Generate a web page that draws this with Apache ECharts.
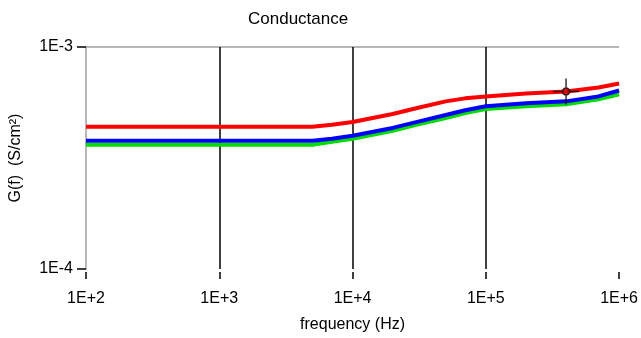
<!DOCTYPE html>
<html>
<head>
<meta charset="utf-8">
<script src="https://cdn.jsdelivr.net/npm/echarts@6/dist/echarts.min.js"></script>
<style>
  html, body { margin: 0; padding: 0; background: #fff; }
  #chart { width: 641px; height: 338px; }
</style>
</head>
<body>
<div id="chart"></div>
<script>
// frequency (Hz) and conductance values (S/cm2)
var freq  = [100, 1000, 5000, 7000, 10000, 20000, 30000, 50000, 70000, 100000, 200000, 400000, 700000, 1000000];
var red   = [4.37e-4, 4.37e-4, 4.37e-4, 4.46e-4, 4.59e-4, 4.99e-4, 5.30e-4, 5.69e-4, 5.87e-4, 5.99e-4, 6.18e-4, 6.31e-4, 6.57e-4, 6.85e-4];
var blue  = [3.78e-4, 3.78e-4, 3.78e-4, 3.86e-4, 3.98e-4, 4.32e-4, 4.59e-4, 4.94e-4, 5.19e-4, 5.41e-4, 5.58e-4, 5.69e-4, 5.99e-4, 6.37e-4];
var green = [3.63e-4, 3.63e-4, 3.63e-4, 3.74e-4, 3.86e-4, 4.19e-4, 4.46e-4, 4.79e-4, 5.04e-4, 5.25e-4, 5.41e-4, 5.52e-4, 5.81e-4, 6.12e-4];
// cursor marker on the red curve
var cursor = [400000, 6.31e-4];

function pairs(ys) {
  return freq.map(function (f, i) { return [f, ys[i]]; });
}
function expLabel(v) {
  var e = Math.round(Math.log10(v));
  return '1E' + (e >= 0 ? '+' : '-') + Math.abs(e);
}

var font = 'Liberation Sans, Arial, sans-serif';
var chart = echarts.init(document.getElementById('chart'));

var option = {
  animation: false,
  backgroundColor: '#fff',
  title: {
    text: 'Conductance',
    left: 243,
    top: 6,
    textStyle: { fontFamily: font, fontSize: 17, fontWeight: 'normal', color: '#000' }
  },
  grid: { left: 84, right: 21, top: 47, bottom: 66 },
  xAxis: {
    type: 'log',
    logBase: 10,
    min: 100,
    max: 1000000,
    offset: 3,
    name: 'frequency (Hz)',
    nameLocation: 'middle',
    nameGap: 45,
    nameTextStyle: { fontFamily: font, fontSize: 16, color: '#000' },
    axisLine: { show: false },
    axisTick: { show: true, length: 7, lineStyle: { color: '#000', width: 1.5 } },
    axisLabel: { fontFamily: font, fontSize: 16, color: '#000', margin: 19, formatter: expLabel },
    splitLine: {
      show: true,
      lineStyle: { color: ['transparent', '#000', '#000', '#000', 'transparent'], width: 1.5 }
    },
    minorTick: { show: false }
  },
  yAxis: {
    type: 'log',
    logBase: 10,
    min: 0.0001,
    max: 0.001,
    name: 'G(f)  (S/cm²)',
    nameLocation: 'middle',
    nameGap: 62,
    nameTextStyle: { fontFamily: font, fontSize: 16, color: '#000' },
    axisLine: { show: true, lineStyle: { color: '#a0a0a0', width: 1.5 } },
    axisTick: { show: true, length: 9, lineStyle: { color: '#000', width: 1.5 } },
    axisLabel: { fontFamily: font, fontSize: 16, color: '#000', margin: 13, formatter: expLabel },
    splitLine: {
      show: true,
      lineStyle: { color: ['transparent', '#a0a0a0'], width: 1.5 }
    }
  },
  series: [
    {
      type: 'line', data: pairs(green), showSymbol: false,
      lineStyle: { color: '#00dd00', width: 4 }
    },
    {
      type: 'line', data: pairs(blue), showSymbol: false,
      lineStyle: { color: '#0000ff', width: 4 }
    },
    {
      type: 'line', data: pairs(red), showSymbol: false,
      lineStyle: { color: '#ff0000', width: 4 }
    },
    {
      type: 'scatter', data: [cursor], z: 5,
      symbol: 'path://M-13,-0.75H-4V0.75H-13Z M4,-0.75H13V0.75H4Z M-0.75,-13H0.75V-4H-0.75Z M-0.75,4H0.75V13H-0.75Z',
      symbolSize: 26,
      itemStyle: { color: '#000' }
    },
    {
      type: 'scatter', data: [cursor], z: 6,
      symbol: 'circle', symbolSize: 7,
      itemStyle: { color: '#d00000', borderColor: '#000', borderWidth: 1.5 }
    }
  ]
};

chart.setOption(option);
</script>
</body>
</html>
